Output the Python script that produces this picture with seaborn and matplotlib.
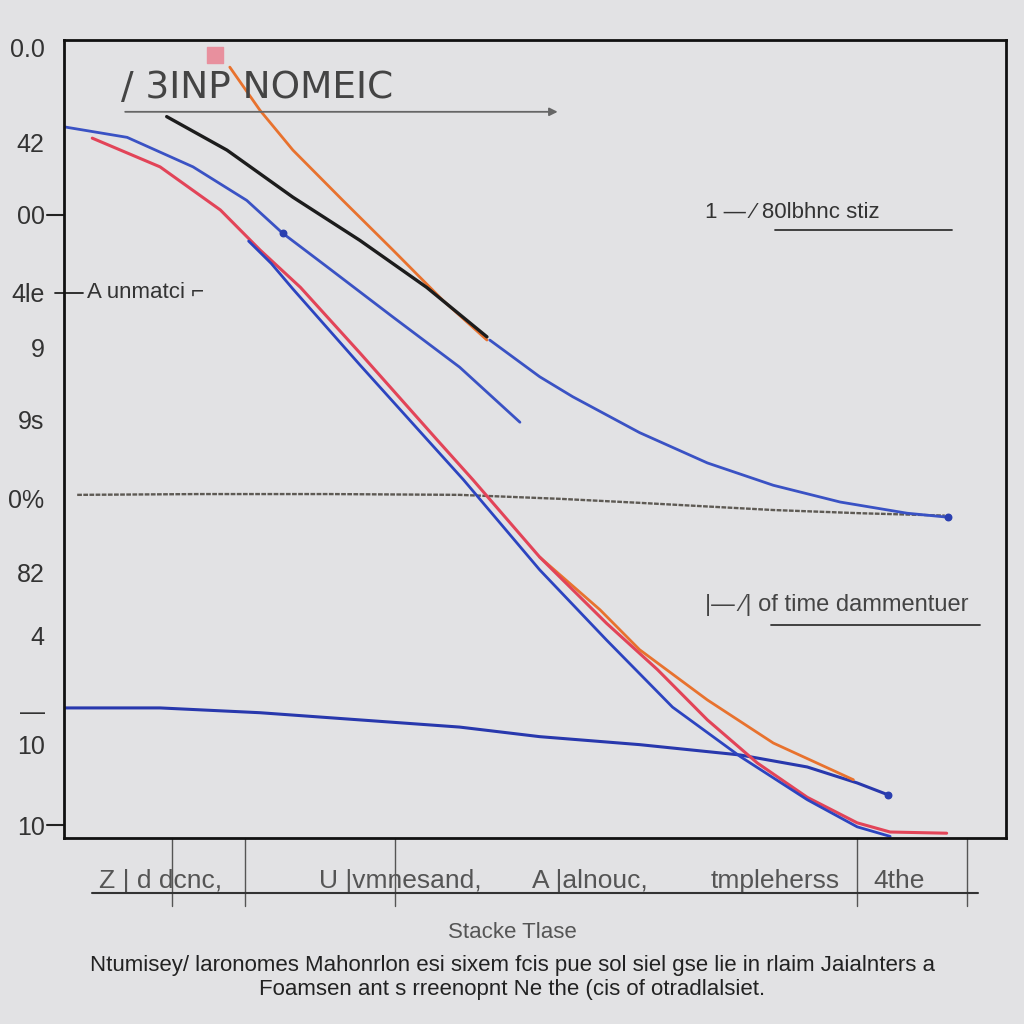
import matplotlib
matplotlib.use('Agg')
import matplotlib.pyplot as plt
import seaborn as sns
import pandas as pd
from matplotlib.lines import Line2D

# data (x: 0-100, y: 0-100)
blue_top_x = [0.1, 6.7, 13.7, 19.4, 23.2, 27.9, 34.9, 42.0, 48.4]
blue_top_y = [89.1, 87.8, 84.1, 79.9, 75.8, 71.6, 65.3, 59.0, 52.1]

black_x = [10.9, 17.3, 24.3, 31.4, 38.5, 44.9]
black_y = [90.4, 86.2, 80.3, 74.9, 69.0, 62.8]

blue_mid_x = [45.2, 50.5, 54.0, 61.1, 68.3, 75.3, 82.4, 89.5, 93.8]
blue_mid_y = [62.4, 57.8, 55.3, 50.8, 47.0, 44.2, 42.1, 40.7, 40.2]

orange_up_x = [17.6, 20.8, 24.3, 29.6, 34.9, 40.2, 44.9]
orange_up_y = [96.6, 91.2, 86.2, 79.9, 73.7, 67.4, 62.4]
orange_low_x = [50.5, 56.9, 61.1, 68.3, 75.3, 83.8]
orange_low_y = [35.2, 28.6, 23.6, 17.3, 11.9, 7.3]

red_x = [3.0, 10.2, 16.6, 20.8, 25.1, 31.4, 39.6, 43.4, 50.5, 57.6, 63.0, 68.3, 73.6, 78.9, 84.2, 87.7, 93.7]
red_y = [87.7, 84.1, 78.7, 73.7, 69.0, 60.8, 49.9, 44.9, 35.2, 26.9, 21.1, 14.8, 9.4, 5.1, 1.9, 0.75, 0.6]

blue_steep_x = [19.6, 22.0, 24.3, 31.4, 38.5, 42.4, 50.5, 57.6, 64.6, 71.8, 78.9, 84.2, 87.7]
blue_steep_y = [74.8, 72.0, 68.8, 59.3, 50.0, 44.9, 33.6, 24.8, 16.4, 10.2, 4.8, 1.4, 0.2]

gray_x = [1.4, 14.4, 28.2, 42.0, 52.7, 61.1, 75.3, 84.5, 93.5]
gray_y = [43.0, 43.1, 43.1, 43.0, 42.5, 42.0, 41.1, 40.7, 40.4]

blue_low_x = [0.1, 10.2, 20.8, 31.4, 42.0, 50.5, 61.1, 71.8, 78.9, 84.2, 87.5]
blue_low_y = [16.3, 16.3, 15.7, 14.8, 13.9, 12.7, 11.7, 10.4, 8.9, 6.9, 5.4]

ytick_pos = [99.0, 87.1, 78.1, 68.3, 61.5, 52.4, 42.6, 33.3, 25.4, 16.0, 11.7, 1.6]
ytick_labels = ['0.0', '42', '00', '4le', '9', '9s', '0%', '82', '4', '—', '10', '10']

xtick_pos = [10.2, 35.7, 55.8, 75.5, 88.7]
xtick_labels = ['Z | d dcnc,', 'U |vmnesand,', 'A |alnouc,', 'tmpleherss', '4the']
xmark_pos = [11.5, 19.2, 35.1, 84.2, 95.9]

bg = '#e2e2e4'
sns.set_theme(style='white', rc={'figure.facecolor': bg, 'axes.facecolor': bg})
plt.rcParams['font.family'] = ['Liberation Sans', 'DejaVu Sans']

fig = plt.figure(figsize=(10.24, 10.24), dpi=100)
ax = fig.add_axes([64 / 1024, 1 - 838 / 1024, 942 / 1024, 798 / 1024])


def draw(xs, ys, color, lw, ls='-'):
    df = pd.DataFrame({'x': xs, 'y': ys})
    sns.lineplot(data=df, x='x', y='y', ax=ax, color=color, linewidth=lw,
                 linestyle=ls, sort=False, estimator=None)


draw(gray_x, gray_y, '#5e5a54', 1.7, (0, (2, 0.6)))
draw(blue_low_x, blue_low_y, '#2838ad', 2.2)
draw(orange_low_x, orange_low_y, '#e8722e', 2.0)
draw(red_x, red_y, '#e24458', 2.2)
draw(blue_steep_x, blue_steep_y, '#2c44c0', 2.0)
draw(orange_up_x, orange_up_y, '#e8722e', 2.0)
draw(black_x, black_y, '#1c1c1c', 2.4)
draw(blue_top_x, blue_top_y, '#3a52c4', 2.0)
draw(blue_mid_x, blue_mid_y, '#3a52c4', 2.0)

ax.scatter([blue_mid_x[-1], blue_low_x[-1], 23.2], [blue_mid_y[-1], blue_low_y[-1], 75.8],
           s=22, color='#2a3fb0', zorder=5)
ax.scatter([16.0], [98.1], s=140, color='#e8909e', marker='s', zorder=5)

ax.set_xlim(0, 100)
ax.set_ylim(0, 100)
ax.set_xlabel('')
ax.set_ylabel('')

ax.set_yticks(ytick_pos)
ax.set_yticklabels(ytick_labels, fontsize=18, color='#333333')
ax.tick_params(axis='y', length=0, pad=14)
ax.set_xticks(xtick_pos)
ax.set_xticklabels(xtick_labels, fontsize=19, color='#555555')
ax.tick_params(axis='x', length=0, pad=22)

for s in ax.spines.values():
    s.set_color('#111111')
    s.set_linewidth(2)
    s.set_visible(True)

# short marks crossing the left spine
ax.plot([-1.8, 0], [78.1, 78.1], color='#222222', lw=1.5, clip_on=False)
ax.plot([-1.8, 0], [1.6, 1.6], color='#222222', lw=1.5, clip_on=False)
ax.plot([-1.0, 2.0], [68.3, 68.3], color='#222222', lw=1.3, clip_on=False)

# title with arrow underline
ax.text(6.0, 94.0, '/ 3INP NOMEIC', fontsize=27, color='#444444', ha='left', va='center',
        family=['DejaVu Sans'])
ax.annotate('', xy=(52.7, 91.0), xytext=(6.2, 91.0),
            arrowprops=dict(arrowstyle='-|>', color='#666666', lw=1.3))

# annotations
ax.text(68.0, 78.4, '1 — ⁄ 80lbhnc stiz', fontsize=16, color='#333333', va='center')
ax.plot([75.5, 94.3], [76.2, 76.2], color='#333333', lw=1.3)
ax.text(68.0, 29.2, '|— ⁄| of time dammentuer', fontsize=17, color='#444444', va='center')
ax.plot([75.0, 97.2], [26.7, 26.7], color='#333333', lw=1.3)
ax.text(2.4, 68.3, 'A unmatci ⌐', fontsize=16, color='#333333', va='center')

# tick marks below axes and baseline
for xm in xmark_pos:
    ax.plot([xm, xm], [0, -8.5], color='#555555', lw=1.0, clip_on=False)
fig.add_artist(Line2D([92 / 1024, 978 / 1024], [1 - 893 / 1024, 1 - 893 / 1024],
                      color='#333333', lw=1.5))

fig.text(0.5, 1 - 932 / 1024, 'Stacke Tlase', ha='center', va='center',
         fontsize=16, color='#555555')
fig.text(0.5, 1 - 966 / 1024,
         'Ntumisey/ laronomes Mahonrlon esi sixem fcis pue sol siel gse lie in rlaim Jaialnters a',
         ha='center', va='center', fontsize=16, color='#222222')
fig.text(0.5, 1 - 989 / 1024, 'Foamsen ant s rreenopnt Ne the (cis of otradlalsiet.',
         ha='center', va='center', fontsize=16, color='#222222')

fig.savefig('out.png', dpi=100, facecolor=bg)
